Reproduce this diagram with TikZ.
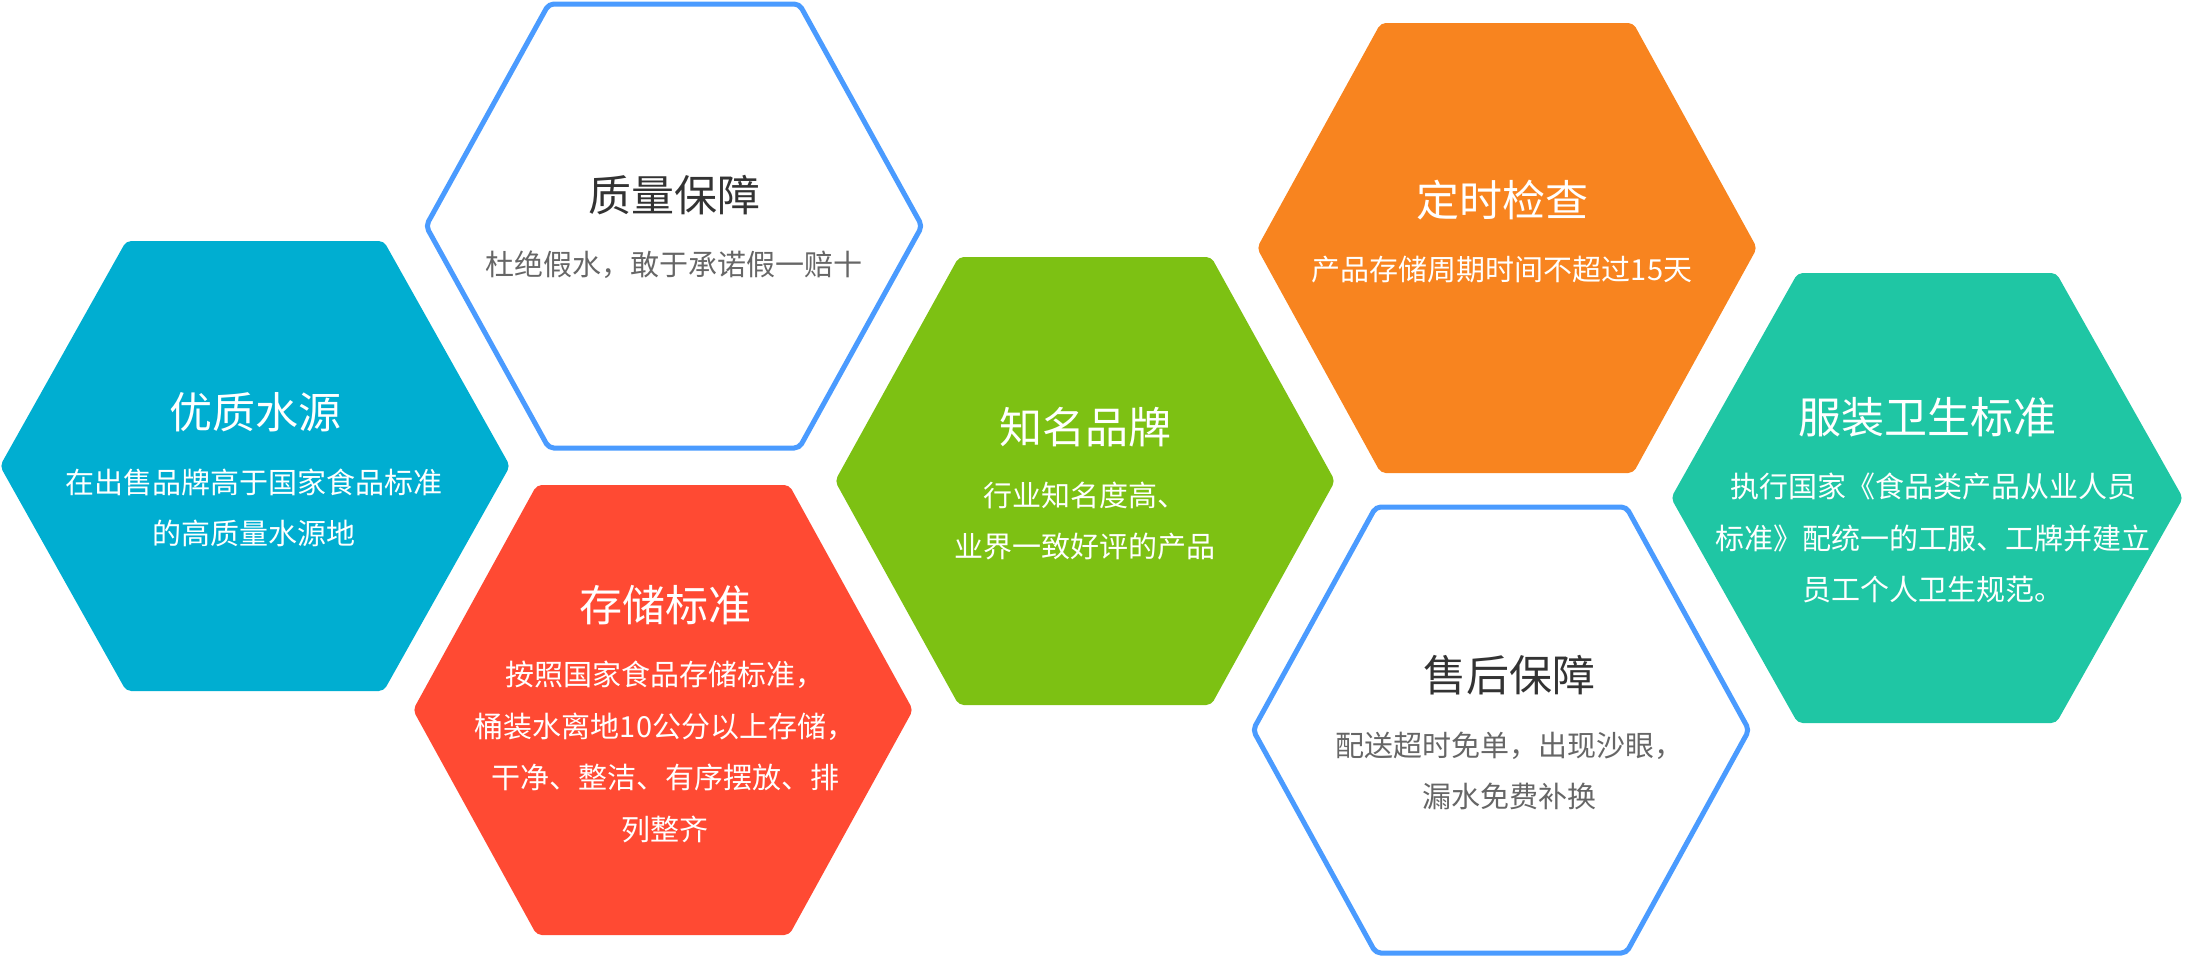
\documentclass[tikz,border=0pt]{standalone}
\usepackage{fontspec}
\newfontfamily\cjk{Noto Sans CJK SC}
\definecolor{cTeal}{HTML}{00AED1}
\definecolor{cBlueLine}{HTML}{4A9BFF}
\definecolor{cRed}{HTML}{FF4A33}
\definecolor{cGreen}{HTML}{7DC113}
\definecolor{cOrange}{HTML}{F8841F}
\definecolor{cMint}{HTML}{1FC6A4}
\definecolor{cDark}{HTML}{333333}
\definecolor{cGray}{HTML}{666666}
\newcommand\hexshape[5]{%
  \path[#5] ({#1-#3},#2) -- ({#1-0.505*#3},{#2-#4}) -- ({#1+0.505*#3},{#2-#4})
    -- ({#1+#3},#2) -- ({#1+0.505*#3},{#2+#4}) -- ({#1-0.505*#3},{#2+#4}) -- cycle;}
\tikzset{
  filledhex/.style={fill=#1, rounded corners=5bp},
  linehex/.style={draw=cBlueLine, line width=5bp, rounded corners=5bp, fill=white},
  title/.style={font=\cjk\fontsize{43bp}{50bp}\selectfont, text=#1, inner sep=0pt},
  body/.style={font=\cjk\fontsize{29bp}{51.5bp}\selectfont, text=#1, align=center, inner sep=0pt},
}
\begin{document}
\begin{tikzpicture}[x=1bp,y=-1bp]
\useasboundingbox (0,0) rectangle (2187,957);
% hexagons
\hexshape{255}{466}{255}{225}{filledhex=cTeal}
\hexshape{674}{226}{248}{222}{linehex}
\hexshape{663}{710}{250}{225}{filledhex=cRed}
\hexshape{1085}{481}{250}{224}{filledhex=cGreen}
\hexshape{1507}{248}{250}{225}{filledhex=cOrange}
\hexshape{1501}{730}{248}{223}{linehex}
\hexshape{1927}{498}{256}{225}{filledhex=cMint}
% texts
\node[title=white] (t1) at (255,412) {优质水源};
\node[body=white] (b1) at (254,508) {在出售品牌高于国家食品标准\\的高质量水源地};
\node[title=cDark] (t2) at (674,195) {质量保障};
\node[body=cGray] (b2) at (674,265) {杜绝假水，敢于承诺假一赔十};
\node[title=white] (t3) at (665,605) {存储标准};
\node[body=white] (b3) at (665,752) {按照国家食品存储标准，\\桶装水离地10公分以上存储，\\干净、整洁、有序摆放、排\\列整齐};
\node[title=white] (t4) at (1085,427) {知名品牌};
\node[body=white] (b4) at (1085,521) {行业知名度高、\\业界一致好评的产品};
\node[title=white] (t5) at (1502,200) {定时检查};
\node[body=white] (b5) at (1502,270) {产品存储周期时间不超过15天};
\node[title=cDark] (t6) at (1509,675) {售后保障};
\node[body=cGray] (b6) at (1509,771) {配送超时免单，出现沙眼，\\漏水免费补换};
\node[title=white] (t7) at (1927,417) {服装卫生标准};
\node[body=white] (b7) at (1933,538) {执行国家《食品类产品从业人员\\标准》配统一的工服、工牌并建立\\员工个人卫生规范。};
\end{tikzpicture}
\end{document}
